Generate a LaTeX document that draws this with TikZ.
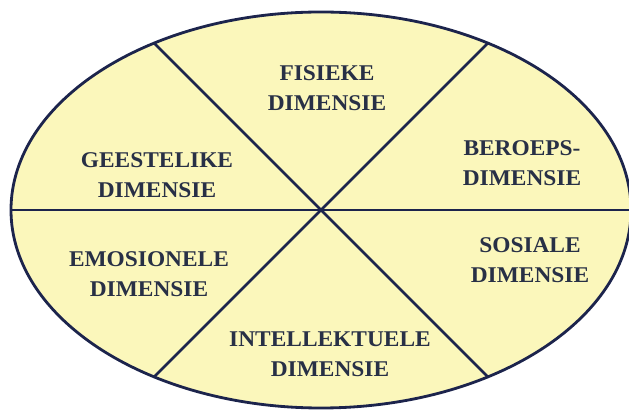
\documentclass[tikz,border=0pt]{standalone}
\usepackage{fontspec}
\setmainfont{Liberation Serif}[FakeStretch=1.04]
\usepackage{xcolor}
\usetikzlibrary{positioning}

\definecolor{wielgeel}{RGB}{251,247,187}
\definecolor{wiellyn}{RGB}{28,36,76}
\definecolor{wielteks}{RGB}{40,48,70}

\begin{document}
\begin{tikzpicture}[
  dimensie/.style={align=center, text=wielteks, font=\fontsize{16}{21}\selectfont\bfseries},
  line/.style={draw=wiellyn, line width=2pt}]
  \useasboundingbox (0,0) rectangle (15.725,10.25);

  \filldraw[fill=wielgeel, draw=wiellyn, line width=2pt] (8.025,5) ellipse [x radius=7.75cm, y radius=4.95cm];

  \coordinate (mid) at (8.025,5);
  \coordinate (links) at (0.275,5);
  \coordinate (regs) at (15.775,5);
  \coordinate (linksbo) at (3.85,9.175);
  \coordinate (regsbo) at (12.2,9.175);
  \coordinate (linksonder) at (3.85,0.825);
  \coordinate (regsonder) at (12.2,0.825);

  \path [line] (links) -- (regs);
  \path [line] (linksbo) -- (regsonder);
  \path [line] (regsbo) -- (linksonder);

  \node [dimensie] (fisiek) at (8.175,8.05) {FISIEKE\\DIMENSIE};
  \node [dimensie] (geestelik) at (3.925,5.875) {GEESTELIKE\\DIMENSIE};
  \node [dimensie] (beroeps) at (13.05,6.175) {BEROEPS-\\DIMENSIE};
  \node [dimensie] (emosioneel) at (3.725,3.4) {EMOSIONELE\\DIMENSIE};
  \node [dimensie] (sosiaal) at (13.25,3.75) {SOSIALE\\DIMENSIE};
  \node [dimensie] (intellektueel) at (8.25,1.4) {INTELLEKTUELE\\DIMENSIE};
\end{tikzpicture}
\end{document}
